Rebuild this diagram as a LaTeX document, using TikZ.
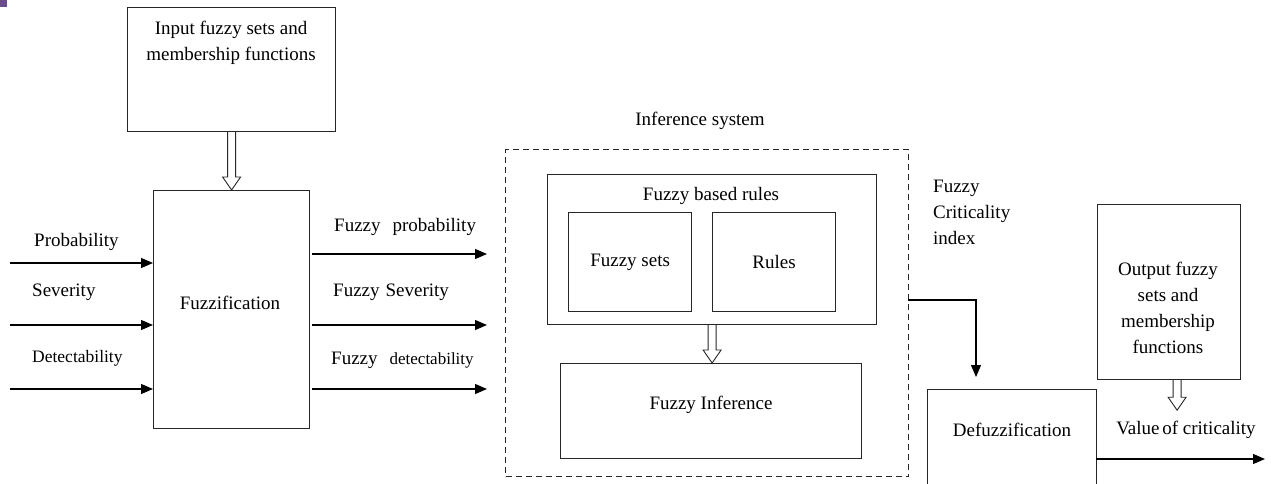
\documentclass[tikz,border=0pt]{standalone}
\usepackage{fontspec}
\setmainfont{Liberation Serif}
\usetikzlibrary{calc,positioning,arrows.meta}
\definecolor{cornermark}{HTML}{6B4D8E}

\newcommand{\hollowdown}[2]{%
  \draw[hollow] ($(#1)+(-4,0)$) -- ($(#2)+(-4,-13)$) -- ($(#2)+(-9,-13)$)
    -- (#2) -- ($(#2)+(9,-13)$) -- ($(#2)+(4,-13)$) -- ($(#1)+(4,0)$);}

\begin{document}
\begin{tikzpicture}[x=1pt,y=-1pt,>=Latex,font=\fontsize{19}{26}\selectfont]
  \tikzset{
    box/.style={draw=black!85, line width=1.2pt, inner sep=0pt, align=center},
    dashbox/.style={draw=black!85, line width=1.2pt, dash pattern=on 6pt off 4pt},
    conn/.style={line width=1.2pt, -{Triangle[length=12pt,width=10pt]}},
    hollow/.style={draw=black!85, line width=0.9pt, fill=white},
    lbl/.style={inner sep=0pt, anchor=west},
    small/.style={font=\fontsize{17.5}{20}\selectfont},
  }
  \clip (0,0) rectangle (1271,484);
  \fill[cornermark] (0,0) rectangle (7,7);

  \node[box, anchor=north west, minimum width=208pt, minimum height=124pt] (input) at (127,7) {};
  \node[inner sep=0pt, align=center] (inputtxt) at (231,43) {Input fuzzy sets and\\membership functions};
  \node[box, anchor=north west, minimum width=156pt, minimum height=238pt] (fuzz) at (153,190) {};
  \node (fuzztxt) at (230,303) {Fuzzification};
  \hollowdown{input.south}{input.south |- fuzz.north}

  \node[lbl] (prob) at (34,242) {Probability};
  \node[lbl] (sev) at (32,292) {Severity};
  \node[lbl, small] (det) at (32,358) {Detectability};
  \node[lbl] (fprob) at (334,227) {Fuzzy\hspace{12pt}probability};
  \node[lbl] (fsev) at (333,292) {Fuzzy\hspace{6pt}Severity};
  \node[lbl] (fdet) at (331,360) {Fuzzy\hspace{12pt}{\fontsize{17}{20}\selectfont detectability}};

  \foreach \yi/\yo in {263/254,325/325,389/389} {
    \coordinate (in\yi) at (10,\yi);
    \coordinate (out\yo) at (312,\yo);
    \coordinate (end\yo) at (487,\yo);
    \draw[conn] (in\yi) -- (fuzz.west |- in\yi);
    \draw[conn] (out\yo) -- (end\yo);
  }

  \node[dashbox, anchor=north west, minimum width=403pt, minimum height=327pt] (infsys) at (505,149) {};
  \node (infsystxt) at (700,121) {Inference system};
  \node[box, anchor=north west, minimum width=329pt, minimum height=150pt] (fbr) at (547,174) {};
  \node (fbrtxt) at (711,196) {Fuzzy based rules};
  \node[box, anchor=north west, minimum width=123pt, minimum height=99pt] (fsets) at (568,212) {Fuzzy sets};
  \node[box, anchor=north west, minimum width=123pt, minimum height=99pt] (rules) at (712,212) {Rules};
  \node[box, anchor=north west, minimum width=301pt, minimum height=95pt] (finf) at (560,363) {};
  \node (finftxt) at (711,405) {Fuzzy Inference};
  \hollowdown{fbr.south}{fbr.south |- finf.north}

  \node[lbl, align=left] (crittxt) at (933,212) {Fuzzy\\Criticality\\index};
  \node[box, anchor=north west, minimum width=169pt, minimum height=110pt] (defuzz) at (927,389) {};
  \node (defuzztxt) at (1012,430) {Defuzzification};
  \coordinate (critout) at (908,300);
  \coordinate (critdown) at (976,300);
  \draw[conn, shorten >=12pt] (critout) -- (critdown) -- (critdown |- defuzz.north);

  \node[box, anchor=north west, minimum width=143pt, minimum height=175pt] (outbox) at (1097,204) {};
  \node[inner sep=0pt, align=center] (outtxt) at (1168,308) {Output fuzzy\\sets and\\membership\\functions};
  \coordinate (outtop) at ($(outbox.south)+(8,0)$);
  \coordinate (outend) at ($(outbox.south)+(8,30)$);
  \hollowdown{outtop}{outend}
  \node (valtxt) at (1186,430) {Value\hspace{-2pt} of criticality};
  \coordinate (valstart) at (1096,459);
  \coordinate (valend) at (1265,459);
  \draw[conn] (valstart) -- (valend);
\end{tikzpicture}
\end{document}
